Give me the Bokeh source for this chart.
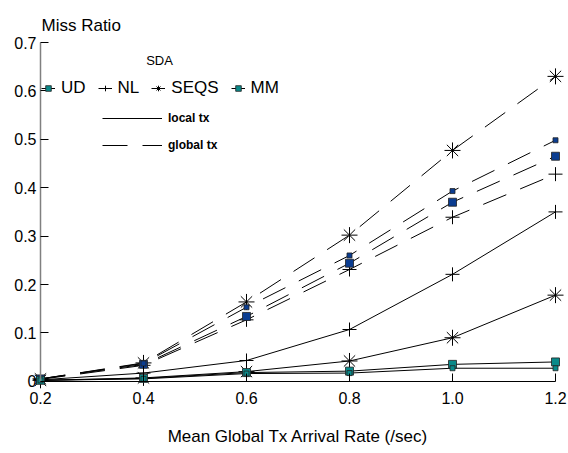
from bokeh.plotting import figure
from bokeh.models import Range1d, Legend, LegendItem, Label, FixedTicker
from bokeh.embed import file_html
from bokeh.resources import INLINE

# ---- data ----
rates = [0.2, 0.4, 0.6, 0.8, 1.0, 1.2]

ud_global = [0.005, 0.037, 0.153, 0.260, 0.393, 0.498]
nl_global = [0.004, 0.033, 0.127, 0.231, 0.339, 0.428]
seqs_global = [0.005, 0.038, 0.164, 0.302, 0.477, 0.630]
mm_global = [0.005, 0.035, 0.134, 0.244, 0.370, 0.465]

ud_local = [0.002, 0.005, 0.016, 0.017, 0.027, 0.027]
nl_local = [0.003, 0.017, 0.043, 0.107, 0.221, 0.350]
seqs_local = [0.002, 0.007, 0.020, 0.042, 0.090, 0.178]
mm_local = [0.002, 0.006, 0.018, 0.021, 0.035, 0.040]

x_ticks = [0.2, 0.4, 0.6, 0.8, 1.0, 1.2]
x_tick_labels = ["0.2", "0.4", "0.6", "0.8", "1.0", "1.2"]
y_ticks = [0.0, 0.1, 0.2, 0.3, 0.4, 0.5, 0.6, 0.7]
y_tick_labels = ["0", "0.1", "0.2", "0.3", "0.4", "0.5", "0.6", "0.7"]

# ---- geometry (frame covers the whole canvas) ----
FONT = "Liberation Sans"
W, H = 568, 453
px_x = 515.0   # pixels per x unit
px_y = 484.0   # pixels per y unit
x0 = 0.2 - 40 / px_x
y1 = 0.7 + 42 / px_y
y0 = y1 - H / px_y

p = figure(width=W, height=H, output_backend="svg", toolbar_location=None,
           x_range=Range1d(x0, x0 + W / px_x), y_range=Range1d(y0, y1),
           min_border=0)
p.xgrid.visible = False
p.ygrid.visible = False
p.outline_line_color = None
p.background_fill_color = "white"
p.border_fill_color = "white"

# axes
xa = p.xaxis[0]
ya = p.yaxis[0]
xa.fixed_location = 0
ya.fixed_location = 0.2
xa.bounds = (0.2, 1.2)
ya.bounds = (0, 0.7)
xa.ticker = FixedTicker(ticks=x_ticks)
ya.ticker = FixedTicker(ticks=y_ticks)
xa.major_label_overrides = {t: s for t, s in zip(x_ticks, x_tick_labels)}
ya.major_label_overrides = {t: s for t, s in zip(y_ticks, y_tick_labels)}
for ax in (xa, ya):
    ax.major_tick_in = 8
    ax.major_tick_out = 0
    ax.minor_tick_line_color = None
    ax.major_label_text_font = FONT
    ax.major_label_text_font_size = "16px"
    ax.major_label_text_color = "black"
    ax.major_tick_line_color = "black"
xa.axis_line_color = "black"
ya.axis_line_color = "#808080"
ya.axis_line_width = 1.5
xa.major_label_standoff = 11
ya.major_label_standoff = 4
xa.axis_label = "Mean Global Tx Arrival Rate (/sec)"
xa.axis_label_text_font = FONT
xa.axis_label_text_font_size = "17px"
xa.axis_label_text_font_style = "normal"
xa.axis_label_text_color = "black"
xa.axis_label_standoff = 19

BLUE = "#0b3d91"
TEAL = "#0a8a8a"
DASH = "25 15"

# global lines (dashed)
glob_lines = []
for ys in (seqs_global, ud_global, mm_global, nl_global):
    glob_lines.append(p.line(rates, ys, line_color="black", line_width=1, line_dash=DASH))
# local lines (solid)
loc_lines = {}
for name, ys in (("nl", nl_local), ("seqs", seqs_local), ("mm", mm_local), ("ud", ud_local)):
    loc_lines[name] = p.line(rates, ys, line_color="black", line_width=1)

# markers - global
p.scatter(rates, seqs_global, marker="asterisk", size=16, line_color="black", line_width=1)
p.scatter(rates, nl_global, marker="cross", size=14, line_color="black", line_width=1)
p.scatter(rates, mm_global, marker="square", size=8, fill_color=BLUE, line_color="#222222", line_width=0.8)
p.scatter(rates, ud_global, marker="square", size=5, fill_color=BLUE, line_color="#222222", line_width=0.8)
# markers - local
seqs_sc = p.scatter(rates, seqs_local, marker="asterisk", size=16, line_color="black", line_width=1)
nl_sc = p.scatter(rates, nl_local, marker="cross", size=14, line_color="black", line_width=1)
mm_sc = p.scatter(rates, mm_local, marker="square", size=8, fill_color=TEAL, line_color="#222222", line_width=0.8)
ud_sc = p.scatter(rates, ud_local, marker="square", size=5, fill_color=TEAL, line_color="#222222", line_width=0.8)

leg1 = Legend(items=[
    LegendItem(label="UD", renderers=[loc_lines["ud"], ud_sc]),
    LegendItem(label="NL", renderers=[loc_lines["nl"], nl_sc]),
    LegendItem(label="SEQS", renderers=[loc_lines["seqs"], seqs_sc]),
    LegendItem(label="MM", renderers=[loc_lines["mm"], mm_sc]),
], orientation="horizontal", location=(41, H - 98), glyph_width=14, glyph_height=20,
    label_height=20, label_standoff=6, spacing=12, padding=0, margin=0,
    border_line_color=None, background_fill_alpha=0,
    label_text_font=FONT, label_text_font_size="17px", label_text_color="black")
p.add_layout(leg1)

leg2 = Legend(items=[
    LegendItem(label="local tx", renderers=[loc_lines["nl"]]),
    LegendItem(label="global tx", renderers=[glob_lines[0]]),
], orientation="vertical", location=(102, H - 155), glyph_width=60, glyph_height=20,
    label_height=20, label_standoff=6, spacing=7, padding=0, margin=0,
    border_line_color=None, background_fill_alpha=0,
    label_text_font=FONT, label_text_font_size="12px", label_text_font_style="bold",
    label_text_color="black")
p.add_layout(leg2)

p.add_layout(Label(x=41, y=H - 25, x_units="screen", y_units="screen",
                   text="Miss Ratio", text_font=FONT, text_font_size="17px",
                   text_color="black", text_baseline="alphabetic"))
p.add_layout(Label(x=159, y=H - 60, x_units="screen", y_units="screen",
                   text="SDA", text_font=FONT, text_font_size="13px",
                   text_color="black", text_align="center", text_baseline="alphabetic"))

open("out.html", "w").write(file_html(p, INLINE))
